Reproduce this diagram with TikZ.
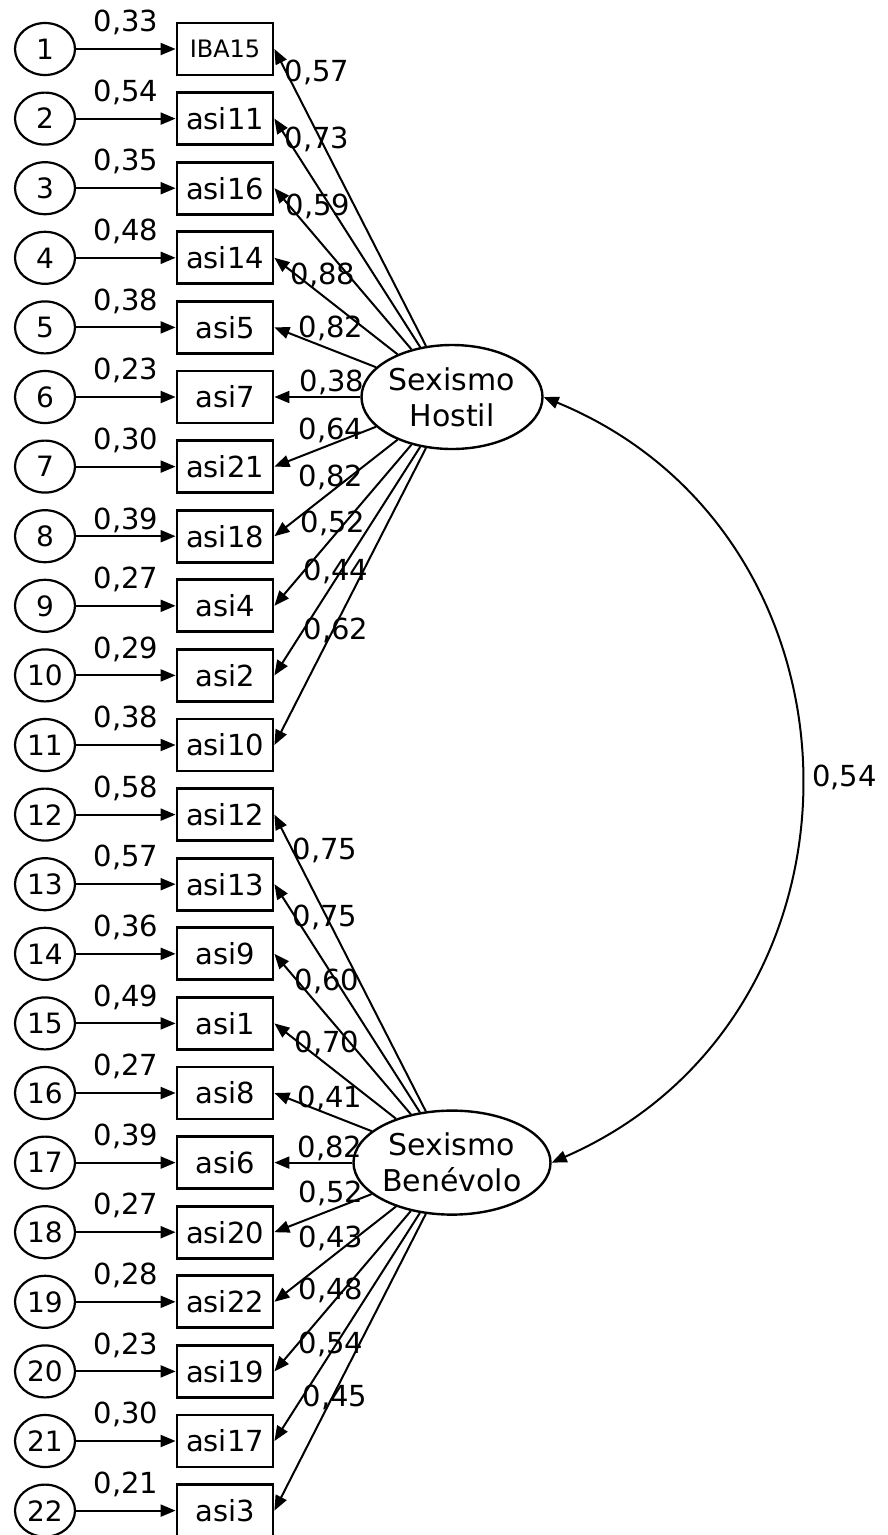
\documentclass[tikz,border=0pt]{standalone}
\usepackage{fontspec}
\setmainfont{DejaVu Sans}
\usetikzlibrary{arrows.meta,shapes.geometric}

\begin{document}
\begin{tikzpicture}[x=1pt, y=1pt,
        err/.style={draw, ellipse, line width=2.2pt, minimum width=60pt, minimum height=52pt, inner sep=0pt, font=\fontsize{28}{30}\selectfont},
        box/.style={draw, rectangle, line width=2.8pt, minimum width=96pt, minimum height=52pt, inner sep=0pt, font=\fontsize{29}{31}\selectfont},
        lat/.style={draw, ellipse, line width=2.4pt, minimum width=181pt, minimum height=104pt, inner sep=0pt, align=center, font=\fontsize{30}{36}\selectfont},
        arr/.style={-{Triangle[length=15pt, width=12pt]}, line width=2pt},
        val/.style={font=\fontsize{29}{31}\selectfont, inner sep=1pt}]

        \useasboundingbox (0,0) rectangle (887,-1535);

        % error terms
        \node[err] (e1)  at (45,-49)     {1};
        \node[err] (e2)  at (45,-118.6)  {2};
        \node[err] (e3)  at (45,-188.2)  {3};
        \node[err] (e4)  at (45,-257.8)  {4};
        \node[err] (e5)  at (45,-327.4)  {5};
        \node[err] (e6)  at (45,-397)    {6};
        \node[err] (e7)  at (45,-466.6)  {7};
        \node[err] (e8)  at (45,-536.2)  {8};
        \node[err] (e9)  at (45,-605.8)  {9};
        \node[err] (e10) at (45,-675.4)  {10};
        \node[err] (e11) at (45,-745)    {11};
        \node[err] (e12) at (45,-814.6)  {12};
        \node[err] (e13) at (45,-884.2)  {13};
        \node[err] (e14) at (45,-953.8)  {14};
        \node[err] (e15) at (45,-1023.4) {15};
        \node[err] (e16) at (45,-1093)   {16};
        \node[err] (e17) at (45,-1162.6) {17};
        \node[err] (e18) at (45,-1232.2) {18};
        \node[err] (e19) at (45,-1301.8) {19};
        \node[err] (e20) at (45,-1371.4) {20};
        \node[err] (e21) at (45,-1441)   {21};
        \node[err] (e22) at (45,-1510.6) {22};

        % items
        \node[box] (v1)  at (225,-49)     {\fontsize{24}{26}\selectfont IBA15};
        \node[box] (v2)  at (225,-118.6)  {asi11};
        \node[box] (v3)  at (225,-188.2)  {asi16};
        \node[box] (v4)  at (225,-257.8)  {asi14};
        \node[box] (v5)  at (225,-327.4)  {asi5};
        \node[box] (v6)  at (225,-397)    {asi7};
        \node[box] (v7)  at (225,-466.6)  {asi21};
        \node[box] (v8)  at (225,-536.2)  {asi18};
        \node[box] (v9)  at (225,-605.8)  {asi4};
        \node[box] (v10) at (225,-675.4)  {asi2};
        \node[box] (v11) at (225,-745)    {asi10};
        \node[box] (v12) at (225,-814.6)  {asi12};
        \node[box] (v13) at (225,-884.2)  {asi13};
        \node[box] (v14) at (225,-953.8)  {asi9};
        \node[box] (v15) at (225,-1023.4) {asi1};
        \node[box] (v16) at (225,-1093)   {asi8};
        \node[box] (v17) at (225,-1162.6) {asi6};
        \node[box] (v18) at (225,-1232.2) {asi20};
        \node[box] (v19) at (225,-1301.8) {asi22};
        \node[box] (v20) at (225,-1371.4) {asi19};
        \node[box] (v21) at (225,-1441)   {asi17};
        \node[box] (v22) at (225,-1510.6) {asi3};

        % factors
        \node[lat] (H) at (452,-397)    {Sexismo\\Hostil};
        \node[lat] (B) at (452,-1162.6) {Sexismo\\Benévolo};

        % error paths
        \draw[arr] (e1)  -- node[val, above=12pt] (u1)  {0,33} (v1);
        \draw[arr] (e2)  -- node[val, above=12pt] (u2)  {0,54} (v2);
        \draw[arr] (e3)  -- node[val, above=12pt] (u3)  {0,35} (v3);
        \draw[arr] (e4)  -- node[val, above=12pt] (u4)  {0,48} (v4);
        \draw[arr] (e5)  -- node[val, above=12pt] (u5)  {0,38} (v5);
        \draw[arr] (e6)  -- node[val, above=12pt] (u6)  {0,23} (v6);
        \draw[arr] (e7)  -- node[val, above=12pt] (u7)  {0,30} (v7);
        \draw[arr] (e8)  -- node[val, above=1pt]  (u8)  {0,39} (v8);
        \draw[arr] (e9)  -- node[val, above=12pt] (u9)  {0,27} (v9);
        \draw[arr] (e10) -- node[val, above=12pt] (u10) {0,29} (v10);
        \draw[arr] (e11) -- node[val, above=12pt] (u11) {0,38} (v11);
        \draw[arr] (e12) -- node[val, above=12pt] (u12) {0,58} (v12);
        \draw[arr] (e13) -- node[val, above=12pt] (u13) {0,57} (v13);
        \draw[arr] (e14) -- node[val, above=12pt] (u14) {0,36} (v14);
        \draw[arr] (e15) -- node[val, above=12pt] (u15) {0,49} (v15);
        \draw[arr] (e16) -- node[val, above=12pt] (u16) {0,27} (v16);
        \draw[arr] (e17) -- node[val, above=12pt] (u17) {0,39} (v17);
        \draw[arr] (e18) -- node[val, above=12pt] (u18) {0,27} (v18);
        \draw[arr] (e19) -- node[val, above=12pt] (u19) {0,28} (v19);
        \draw[arr] (e20) -- node[val, above=12pt] (u20) {0,23} (v20);
        \draw[arr] (e21) -- node[val, above=12pt] (u21) {0,30} (v21);
        \draw[arr] (e22) -- node[val, above=12pt] (u22) {0,21} (v22);

        % loadings
        \draw[arr] (H) -- (v1.east);
        \draw[arr] (H) -- (v2.east);
        \draw[arr] (H) -- (v3.east);
        \draw[arr] (H) -- (v4.east);
        \draw[arr] (H) -- (v5.east);
        \draw[arr] (H) -- (v6.east);
        \draw[arr] (H) -- (v7.east);
        \draw[arr] (H) -- (v8.east);
        \draw[arr] (H) -- (v9.east);
        \draw[arr] (H) -- (v10.east);
        \draw[arr] (H) -- (v11.east);
        \draw[arr] (B) -- (v12.east);
        \draw[arr] (B) -- (v13.east);
        \draw[arr] (B) -- (v14.east);
        \draw[arr] (B) -- (v15.east);
        \draw[arr] (B) -- (v16.east);
        \draw[arr] (B) -- (v17.east);
        \draw[arr] (B) -- (v18.east);
        \draw[arr] (B) -- (v19.east);
        \draw[arr] (B) -- (v20.east);
        \draw[arr] (B) -- (v21.east);
        \draw[arr] (B) -- (v22.east);

        \node[val] (l1)  at (317,-72)   {0,57};
        \node[val] (l2)  at (317,-139)  {0,73};
        \node[val] (l3)  at (318,-206)  {0,59};
        \node[val] (l4)  at (323,-275)  {0,88};
        \node[val] (l5)  at (331,-328)  {0,82};
        \node[val] (l6)  at (332,-382)  {0,38};
        \node[val] (l7)  at (331,-430)  {0,64};
        \node[val] (l8)  at (331,-477)  {0,82};
        \node[val] (l9)  at (333,-523)  {0,52};
        \node[val] (l10) at (336,-571)  {0,44};
        \node[val] (l11) at (336,-630)  {0,62};
        \node[val] (l12) at (325,-850)  {0,75};
        \node[val] (l13) at (325,-917)  {0,75};
        \node[val] (l14) at (327,-981)  {0,60};
        \node[val] (l15) at (327,-1043) {0,70};
        \node[val] (l16) at (330,-1098) {0,41};
        \node[val] (l17) at (330,-1148) {0,82};
        \node[val] (l18) at (331,-1193) {0,52};
        \node[val] (l19) at (331,-1238) {0,43};
        \node[val] (l20) at (331,-1290) {0,48};
        \node[val] (l21) at (331,-1344) {0,54};
        \node[val] (l22) at (335,-1397) {0,45};

        % correlation
        \draw[{Triangle[length=15pt, width=12pt]}-{Triangle[length=15pt, width=12pt]}, line width=2pt]
            (H.east) to[bend left=67, looseness=1.22] node[val, right=10pt] (r) {0,54} (B.east);

\end{tikzpicture}
\end{document}
